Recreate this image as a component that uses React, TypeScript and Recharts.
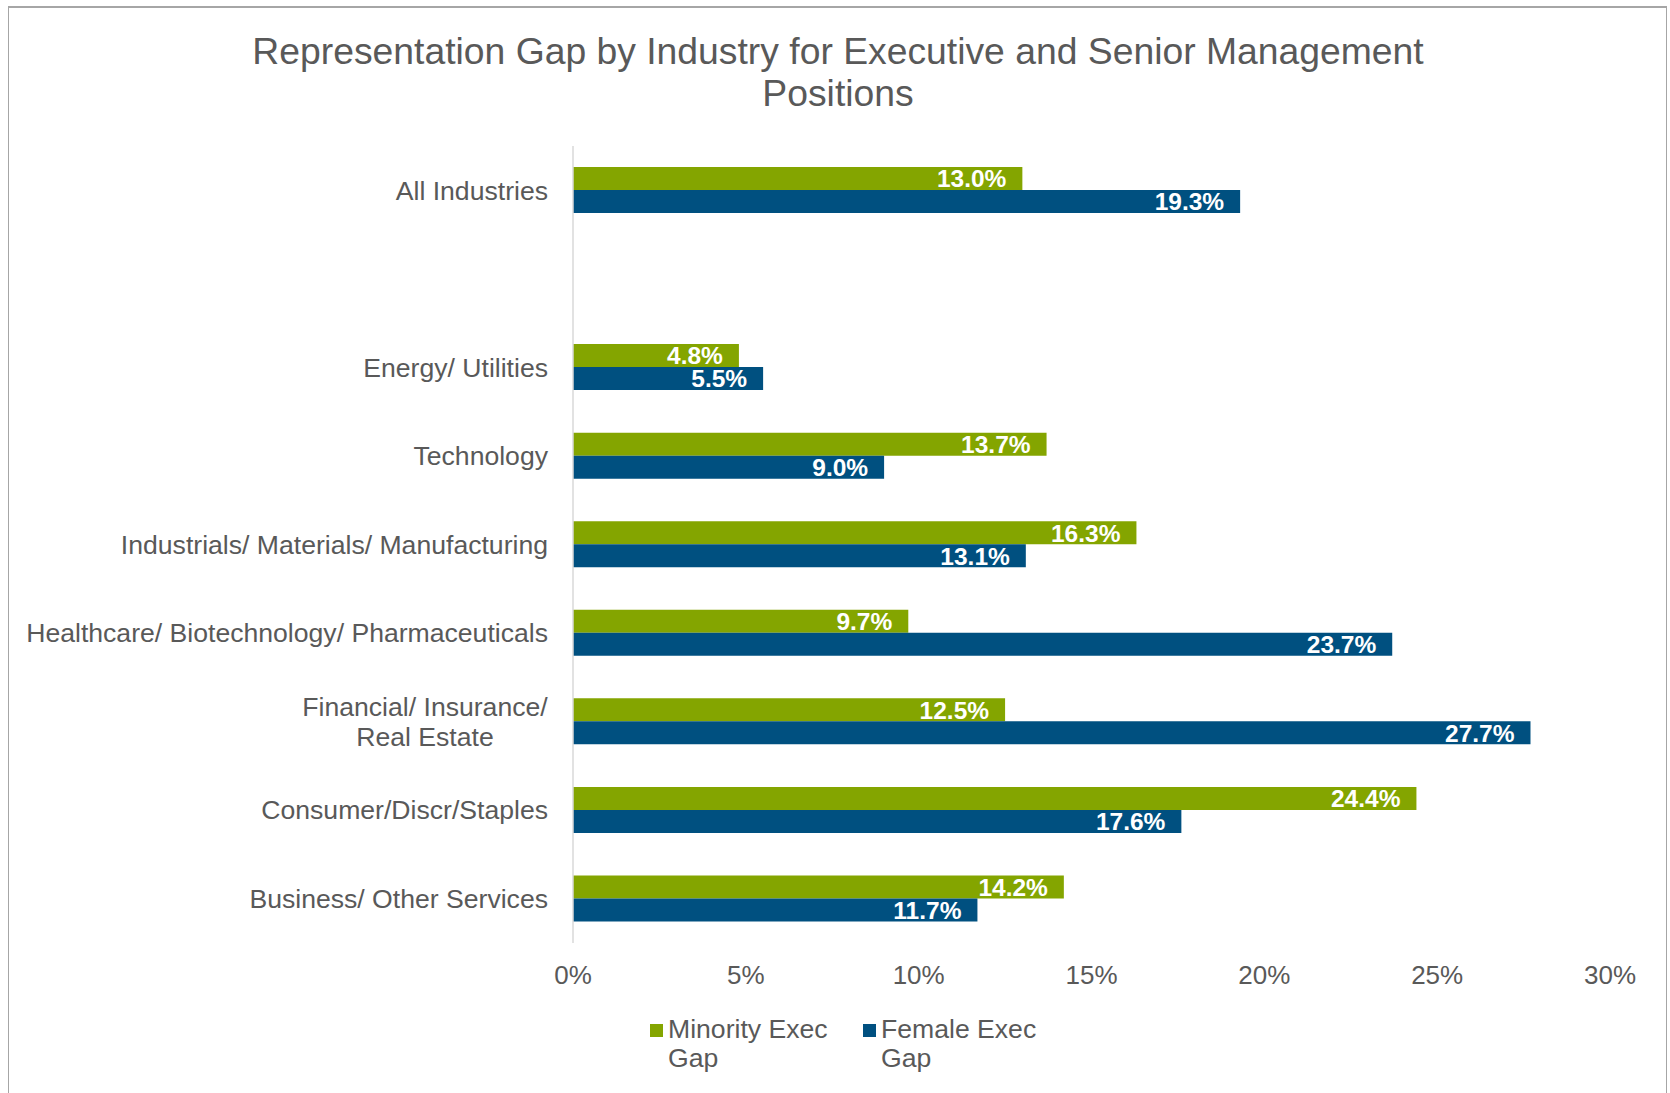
import React from 'react';
import { BarChart, Bar, XAxis, YAxis, LabelList } from 'recharts';

const categories = [
  'All Industries',
  '',
  'Energy/ Utilities',
  'Technology',
  'Industrials/ Materials/ Manufacturing',
  'Healthcare/ Biotechnology/ Pharmaceuticals',
  'Financial/ Insurance/\nReal Estate',
  'Consumer/Discr/Staples',
  'Business/ Other Services',
];
const minorityGap: (number | null)[] = [13.0, null, 4.8, 13.7, 16.3, 9.7, 12.5, 24.4, 14.2];
const femaleGap: (number | null)[] = [19.3, null, 5.5, 9.0, 13.1, 23.7, 27.7, 17.6, 11.7];
const xTicks = [0, 5, 10, 15, 20, 25, 30];
const titleLines = ['Representation Gap by Industry for Executive and Senior Management', 'Positions'];
const seriesNames = ['Minority Exec\nGap', 'Female Exec\nGap'];

const GREEN = '#84A500';
const BLUE = '#005080';
const TEXT = '#595959';
const FONT = '"Liberation Sans", Arial, sans-serif';

const data = categories.map((name, i) => ({ name, minority: minorityGap[i], female: femaleGap[i] }));

const CatTick = (props: any) => {
  const { x, y, payload } = props;
  const lines = String(payload.value).split('\n');
  if (lines.length === 1) {
    return (
      <text x={x} y={y} dy="0.35em" textAnchor="end" fill={TEXT} fontSize={26.6} fontFamily={FONT}>
        {lines[0]}
      </text>
    );
  }
  const lh = 30;
  const startY = y - ((lines.length - 1) * lh) / 2;
  return (
    <text x={x - 123} y={startY} textAnchor="middle" fill={TEXT} fontSize={26.6} fontFamily={FONT}>
      {lines.map((l, i) => (
        <tspan key={i} x={x - 123} y={startY + i * lh} dy="0.35em">
          {l}
        </tspan>
      ))}
    </text>
  );
};

const ValueLabel = (props: any) => {
  const { x, y, width, height, value } = props;
  if (value === null || value === undefined) return null;
  return (
    <text
      x={Number(x) + Number(width) - 16}
      y={Number(y) + Number(height) / 2}
      dy="0.36em"
      textAnchor="end"
      fill="#ffffff"
      fontSize={24.5}
      fontWeight="bold"
      fontFamily={FONT}
    >
      {Number(value).toFixed(1) + '%'}
    </text>
  );
};

const LegendItem = ({ left, color, label }: { left: number; color: string; label: string }) => (
  <div style={{ position: 'absolute', left, top: 1015 }}>
    <div style={{ position: 'absolute', left: 0, top: 9, width: 13, height: 13, background: color }} />
    <div
      style={{
        position: 'absolute',
        left: 18,
        top: 0,
        fontSize: 26.6,
        lineHeight: '29px',
        color: TEXT,
        fontFamily: FONT,
        whiteSpace: 'pre',
      }}
    >
      {label}
    </div>
  </div>
);

export default function App() {
  return (
    <div style={{ position: 'absolute', left: 0, top: 0, width: 1670, height: 1093, background: '#fff', overflow: 'hidden' }}>
      <div
        style={{
          position: 'absolute',
          left: 8,
          top: 6,
          width: 1659,
          height: 1110,
          borderLeft: '1px solid #a6a6a6',
          borderRight: '1px solid #a6a6a6',
          borderTop: '2px solid #a6a6a6',
          boxSizing: 'border-box',
        }}
      />
      <div
        style={{
          position: 'absolute',
          left: 0,
          width: 1676,
          top: 30,
          textAlign: 'center',
          fontSize: 37.3,
          lineHeight: '42px',
          color: TEXT,
          fontFamily: FONT,
        }}
      >
        {titleLines.map((t, i) => (
          <div key={i}>{t}</div>
        ))}
      </div>
      <div style={{ position: 'absolute', left: 0, top: 0 }}>
        <BarChart
          width={1670}
          height={1093}
          data={data}
          layout="vertical"
          margin={{ top: 146, right: 60, bottom: 110, left: 0 }}
          barSize={23}
          barGap={0}
        >
          <XAxis
            type="number"
            domain={[0, 30]}
            ticks={xTicks}
            tickFormatter={(v: number) => `${v}%`}
            axisLine={false}
            tickLine={false}
            tickMargin={17}
            height={40}
            tick={{ fill: TEXT, fontSize: 26, fontFamily: FONT }}
            interval={0}
          />
          <YAxis
            type="category"
            dataKey="name"
            width={573}
            axisLine={{ stroke: '#d9d9d9', strokeWidth: 1.5 }}
            tickLine={false}
            tickMargin={19}
            tick={<CatTick />}
            interval={0}
          />
          <Bar dataKey="minority" fill={GREEN} isAnimationActive={false}>
            <LabelList dataKey="minority" content={<ValueLabel />} />
          </Bar>
          <Bar dataKey="female" fill={BLUE} isAnimationActive={false}>
            <LabelList dataKey="female" content={<ValueLabel />} />
          </Bar>
        </BarChart>
      </div>
      <LegendItem left={650} color={GREEN} label={seriesNames[0]} />
      <LegendItem left={863} color={BLUE} label={seriesNames[1]} />
    </div>
  );
}
